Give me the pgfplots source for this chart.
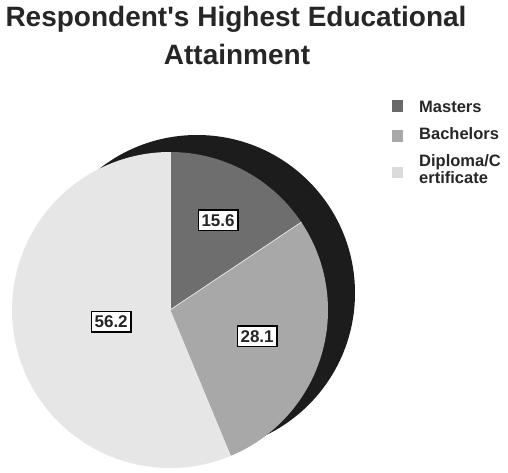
\documentclass[border=0pt]{standalone}
\usepackage{fontspec}
\setmainfont{Liberation Sans}
\usepackage{pgfplots}
\usepackage{pgfplotstable}
\pgfplotsset{compat=1.18}
\definecolor{cMas}{HTML}{6E6E6E}
\definecolor{cBac}{HTML}{A8A8A8}
\definecolor{cDip}{HTML}{E6E6E6}
\definecolor{cShadow}{HTML}{1C1C1C}
\definecolor{cText}{HTML}{262626}
\pgfplotstableread{
label value dist
Masters 15.6 102
Bachelors 28.1 91
Diploma 56.2 60
}\piedata
\begin{document}
\begin{tikzpicture}
% angles from the data (clockwise from 12 o'clock)
\pgfplotstablegetelem{0}{value}\of\piedata \edef\vA{\pgfplotsretval}
\pgfplotstablegetelem{1}{value}\of\piedata \edef\vB{\pgfplotsretval}
\pgfplotstablegetelem{2}{value}\of\piedata \edef\vC{\pgfplotsretval}
\pgfplotstablegetelem{0}{dist}\of\piedata \edef\dA{\pgfplotsretval}
\pgfplotstablegetelem{1}{dist}\of\piedata \edef\dB{\pgfplotsretval}
\pgfplotstablegetelem{2}{dist}\of\piedata \edef\dC{\pgfplotsretval}
\pgfmathsetmacro\tot{\vA+\vB+\vC}
\pgfmathsetmacro\aA{90}
\pgfmathsetmacro\aB{\aA-360*(\vA/\tot)}
\pgfmathsetmacro\aC{\aB-360*(\vB/\tot)}
\pgfmathsetmacro\aD{\aC-360*(\vC/\tot)}
\pgfmathsetmacro\mA{(\aA+\aB)/2}
\pgfmathsetmacro\mB{(\aB+\aC)/2}
\pgfmathsetmacro\mC{(\aC+\aD)/2}
\begin{axis}[width=508pt,height=473pt,scale only axis,
  xmin=0,xmax=508,ymin=0,ymax=473,y dir=reverse,hide axis,clip=false]
\fill[cShadow] (axis cs:197,293) circle[radius=158pt];
\fill[cMas] (axis cs:170,310) -- ++(\aA:158pt) arc[start angle=\aA,end angle=\aB,radius=158pt] -- cycle;
\fill[cBac] (axis cs:170,310) -- ++(\aB:158pt) arc[start angle=\aB,end angle=\aC,radius=158pt] -- cycle;
\fill[cDip] (axis cs:170,310) -- ++(\aC:158pt) arc[start angle=\aC,end angle=\aD,radius=158pt] -- cycle;
\draw[white!85!gray,line width=0.7pt] (axis cs:170,310) -- ++(\aA:158pt);
\draw[white!85!gray,line width=0.7pt] (axis cs:170,310) -- ++(\aB:158pt);
\draw[white!85!gray,line width=0.7pt] (axis cs:170,310) -- ++(\aC:158pt);
\tikzset{lbl/.style={draw=black,line width=1.6pt,fill=white,inner xsep=3.2pt,inner ysep=4.3pt,
      text height=12pt,text depth=0pt,font=\bfseries\fontsize{17}{17}\selectfont,text=cText}}
\node[lbl] at ([shift={(\mA:\dA pt)}]axis cs:170,310) {\vA};
\node[lbl] at ([shift={(\mB:\dB pt)}]axis cs:170,310) {\vB};
\node[lbl] at ([shift={(\mC:\dC pt)}]axis cs:170,310) {\vC};
% title
\node[anchor=base,font=\bfseries\fontsize{28}{34}\selectfont,text=cText] at (axis cs:236,27) {Respondent\textquotesingle s Highest Educational};
\node[anchor=base,font=\bfseries\fontsize{28}{34}\selectfont,text=cText] at (axis cs:237,65) {Attainment};
% legend
\fill[cMas!95!black] (axis cs:392,100) rectangle (axis cs:403,112);
\fill[cBac] (axis cs:392,130) rectangle (axis cs:403,142);
\fill[cDip!95!black] (axis cs:392,167) rectangle (axis cs:403,178);
\tikzset{leg/.style={anchor=base west,inner sep=0pt,font=\bfseries\fontsize{16.5}{16}\selectfont,text=cText}}
\node[leg] at (axis cs:419,113) {Masters};
\node[leg] at (axis cs:419,140) {Bachelors};
\node[leg] at (axis cs:419,167) {Diploma/C};
\node[leg] at (axis cs:419,183) {ertificate};
\end{axis}
\pgfresetboundingbox
\path (current axis.south west) rectangle (current axis.north east);
\end{tikzpicture}
\end{document}
